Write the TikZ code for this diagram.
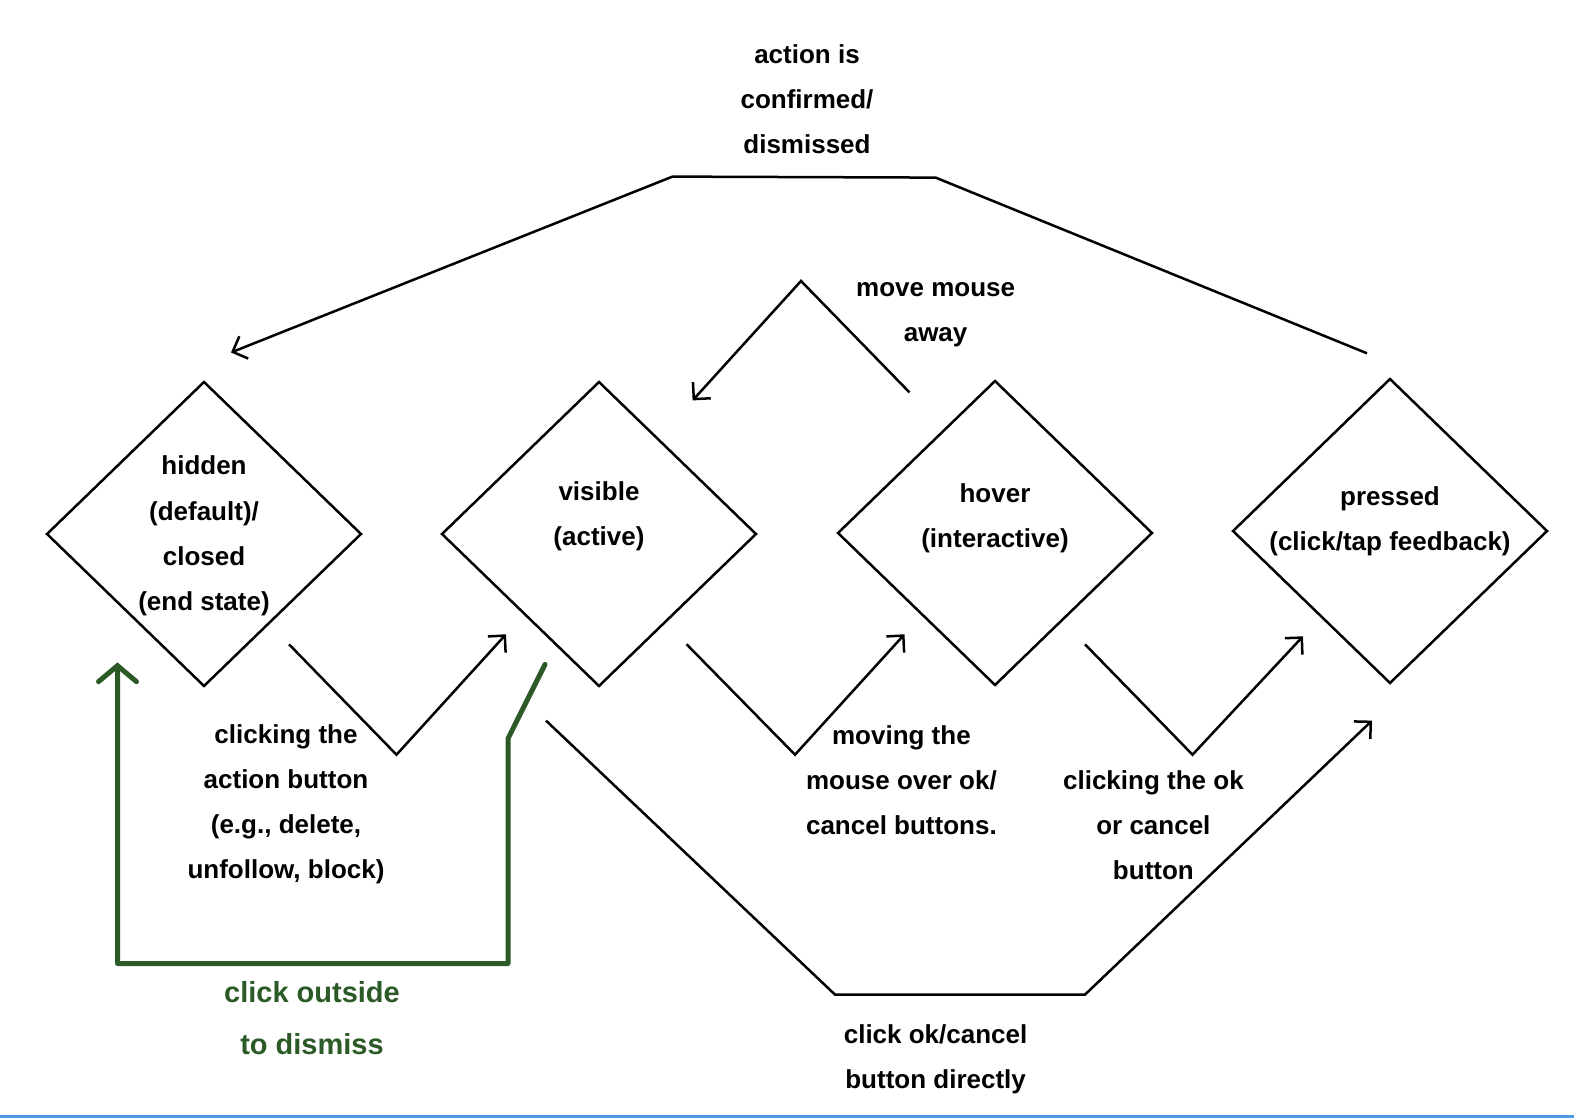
\documentclass[tikz,border=0pt]{standalone}
\usepackage{fontspec}
\setmainfont{Liberation Sans}
\usetikzlibrary{shapes.geometric,arrows.meta}
\definecolor{dgreen}{HTML}{2B5A27}
\definecolor{bline}{HTML}{4D9BE6}
\begin{document}
\begin{tikzpicture}[x=1pt,y=-1pt,
  state/.style={draw, line width=2.5pt, shape=diamond, minimum width=315pt, minimum height=305pt, inner sep=0pt},
  lbl/.style={font=\fontsize{26}{45.2}\selectfont\bfseries, align=center, inner sep=0pt},
  glbl/.style={font=\fontsize{29}{52.5}\selectfont\bfseries, align=center, text=dgreen, inner sep=0pt},
  conn/.style={draw, line width=2.5pt, line join=miter},
  tip/.style={-{Straight Barb[length=12pt,width=24pt]}},
  gconn/.style={draw=dgreen, line width=5pt, line cap=round, line join=round, -{Straight Barb[length=16pt,width=38pt,line cap=round]}}
]
\useasboundingbox (0,0) rectangle (1574,1118);
\fill[white] (0,0) rectangle (1574,1118);
\fill[bline] (0,1115) rectangle (1574,1118);

% states
\node[state] (hidden) at (204,534) {};
\node[lbl] (hiddenT) at (204,536) {hidden\\(default)/\\closed\\(end state)};
\node[state] (visible) at (599,534) {};
\node[lbl] (visibleT) at (599,516) {visible\\(active)};
\node[state] (hover) at (995,533) {};
\node[lbl] (hoverT) at (995,518) {hover\\(interactive)};
\node[state] (pressed) at (1390,531) {};
\node[lbl] (pressedT) at (1390,521) {pressed\\(click/tap feedback)};

% labels
\node[lbl] (lTop) at (807,99) {action is\\confirmed/\\dismissed};
\node[lbl] (lMove) at (935.6,315) {move mouse\\away};
\node[lbl] (l1) at (286,804.3) {clicking the\\action button\\(e.g., delete,\\unfollow, block)};
\node[lbl] (l2) at (901.4,780) {moving the\\mouse over ok/\\cancel buttons.};
\node[lbl] (l3) at (1153.4,825) {clicking the ok\\or cancel\\button};
\node[lbl] (lBot) at (935.6,1059.5) {click ok/cancel\\button directly};
\node[glbl] (lGreen) at (312,1018) {click outside\\to dismiss};

% connector points
\coordinate (pOut) at (1367,353.3);
\coordinate (tR) at (935.6,177.6);
\coordinate (tL) at (672.5,176.6);
\coordinate (hIn) at (231,352.5);

\coordinate (mA) at (909.5,392.4);
\coordinate (mB) at (801,281);
\coordinate (vIn) at (692.6,400.4);

\coordinate (a1) at (289,644.3);
\coordinate (b1) at (396.5,754.7);
\coordinate (c1) at (506,634.3);

\coordinate (a2) at (686.6,644.3);
\coordinate (b2) at (795,754.7);
\coordinate (c2) at (904.5,634.3);

\coordinate (a3) at (1085,644.3);
\coordinate (b3) at (1192.5,754.7);
\coordinate (c3) at (1303,636.3);

\coordinate (a4) at (546,720.6);
\coordinate (b4) at (835,994.6);
\coordinate (c4) at (1085,994.6);
\coordinate (d4) at (1372,720.6);

\coordinate (g1) at (545,664.4);
\coordinate (g2) at (508,738.6);
\coordinate (g3) at (508,963.5);
\coordinate (g4) at (117.5,963.5);
\coordinate (g5) at (117.5,662.4);

% connectors
\draw[conn, tip] (pOut) -- (tR) -- (tL) -- (hIn);
\draw[conn, tip] (mA) -- (mB) -- (vIn);
\draw[conn, tip] (a1) -- (b1) -- (c1);
\draw[conn, tip] (a2) -- (b2) -- (c2);
\draw[conn, tip] (a3) -- (b3) -- (c3);
\draw[conn, tip] (a4) -- (b4) -- (c4) -- (d4);
\draw[gconn] (g1) -- (g2) -- (g3) -- (g4) -- (g5);
\end{tikzpicture}
\end{document}
